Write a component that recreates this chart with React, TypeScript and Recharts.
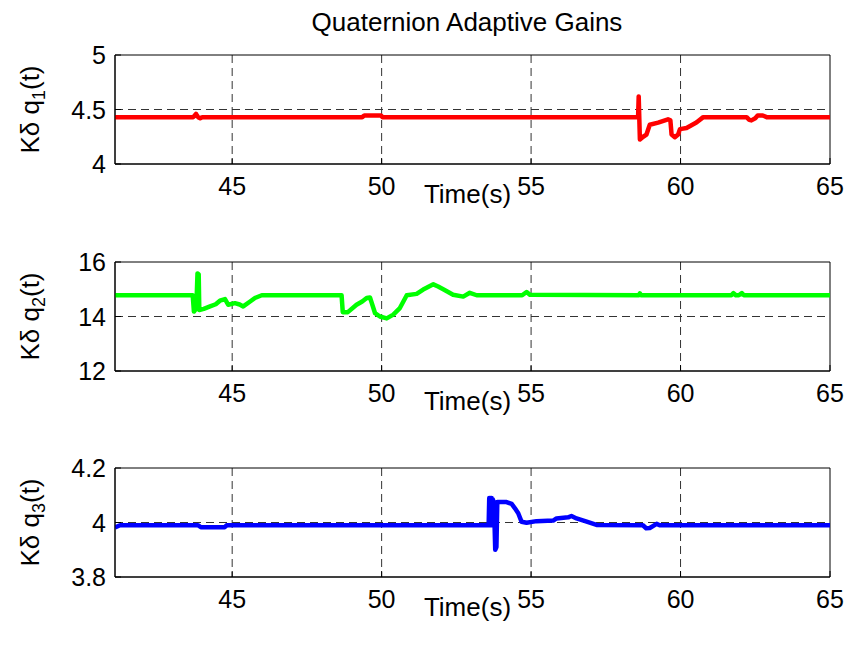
import React from 'react';
import { LineChart, Line, XAxis, YAxis, CartesianGrid, ReferenceArea } from 'recharts';

const FONT = '"Liberation Sans", Arial, Helvetica, sans-serif';

const tStart = 41.08;
const tEnd = 65;
const timeTicks = [45, 50, 55, 60, 65];
const timeGrid = [45, 50, 55, 60];

// Kδ q1 gain
const q1Time = [41.08, 43.70, 43.79, 43.86, 43.93, 44.0, 49.35, 49.42, 49.98, 50.03, 58.58, 58.60, 58.64, 58.75, 58.86, 58.97, 59.25, 59.58, 59.66, 59.70, 59.81, 59.92, 59.98, 60.2, 60.53, 60.76, 62.21, 62.30, 62.37, 62.50, 62.58, 62.75, 62.88, 65];
const q1Gain = [4.43, 4.43, 4.46, 4.43, 4.42, 4.43, 4.43, 4.445, 4.445, 4.43, 4.43, 4.62, 4.225, 4.25, 4.27, 4.36, 4.38, 4.41, 4.40, 4.27, 4.245, 4.27, 4.32, 4.33, 4.38, 4.43, 4.43, 4.405, 4.40, 4.42, 4.445, 4.445, 4.43, 4.43];

// Kδ q2 gain
const q2Time = [41.08, 43.68, 43.72, 43.80, 43.84, 43.88, 43.90, 44.05, 44.26, 44.45, 44.59, 44.76, 44.87, 45.09, 45.25, 45.37, 45.60, 45.76, 45.99, 48.66, 48.70, 48.87, 49.16, 49.35, 49.50, 49.61, 49.78, 49.94, 50.17, 50.39, 50.61, 50.84, 51.17, 51.39, 51.73, 51.89, 52.06, 52.39, 52.73, 52.95, 53.18, 54.70, 54.85, 54.96, 58.60, 58.64, 58.68, 61.70, 61.77, 61.85, 61.95, 62.05, 62.12, 65];
const q2Gain = [14.78, 14.78, 14.18, 14.30, 15.58, 15.55, 14.24, 14.28, 14.37, 14.45, 14.58, 14.64, 14.43, 14.49, 14.44, 14.37, 14.55, 14.68, 14.78, 14.78, 14.16, 14.16, 14.43, 14.55, 14.68, 14.70, 14.12, 14.00, 13.93, 14.07, 14.31, 14.78, 14.83, 14.99, 15.18, 15.10, 15.00, 14.80, 14.73, 14.87, 14.78, 14.78, 14.90, 14.80, 14.78, 14.85, 14.78, 14.78, 14.86, 14.78, 14.78, 14.86, 14.78, 14.78];

// Kδ q3 gain
const q3Time = [41.08, 41.25, 43.85, 43.95, 44.75, 44.82, 53.58, 53.60, 53.62, 53.64, 53.66, 53.68, 53.70, 53.72, 53.76, 53.80, 53.84, 53.87, 54.18, 54.35, 54.46, 54.57, 54.68, 54.85, 55.18, 55.74, 55.85, 56.24, 56.35, 56.52, 56.86, 57.19, 58.74, 58.85, 58.97, 59.20, 59.30, 65];
const q3Gain = [3.982, 3.99, 3.99, 3.983, 3.983, 3.99, 3.99, 4.09, 4.0, 4.09, 3.99, 4.09, 4.0, 4.085, 4.07, 3.90, 3.91, 4.075, 4.075, 4.068, 4.052, 4.034, 4.003, 3.999, 4.005, 4.007, 4.015, 4.019, 4.024, 4.015, 4.003, 3.991, 3.99, 3.979, 3.98, 3.995, 3.99, 3.99];

const panels = [
  { time: q1Time, gain: q1Gain, color: '#ff0000', sub: '1', domain: [4, 5], ticks: [4, 4.5, 5], top: 0 },
  { time: q2Time, gain: q2Gain, color: '#00ff00', sub: '2', domain: [12, 16], ticks: [12, 14, 16], top: 207 },
  { time: q3Time, gain: q3Gain, color: '#0000ff', sub: '3', domain: [3.8, 4.2], ticks: [3.8, 4, 4.2], top: 413 },
];

const BottomTick = (props: any) => {
  const { x, y, payload } = props;
  return (
    <g>
      <line x1={x} y1={y} x2={x} y2={y - 6} stroke="#000" />
      <text x={x} y={y + 31} textAnchor="middle" fontSize={25} fontFamily={FONT} fill="#000">
        {payload.value}
      </text>
    </g>
  );
};

const LeftTick = (props: any) => {
  const { x, y, payload } = props;
  return (
    <g>
      <line x1={x} y1={y} x2={x + 6} y2={y} stroke="#000" />
      <text x={x - 9} y={y} dy="0.36em" textAnchor="end" fontSize={25} fontFamily={FONT} fill="#000">
        {payload.value}
      </text>
    </g>
  );
};

const TimeLabel = (props: any) => {
  const vb = props.viewBox || { x: 115, y: 164, width: 715, height: 43 };
  return (
    <text x={vb.x + vb.width / 2 - 5} y={vb.y + 39} textAnchor="middle" fontSize={26} fontFamily={FONT} fill="#000">
      Time(s)
    </text>
  );
};

const gainLabel = (sub: string) => (props: any) => {
  const vb = props.viewBox || { x: 0, y: 55, width: 115, height: 109 };
  const cx = vb.x + 39;
  const cy = vb.y + vb.height / 2;
  return (
    <text x={cx} y={cy} transform={`rotate(-90, ${cx}, ${cy})`} textAnchor="middle" fontSize={26} fontFamily={FONT} fill="#000">
      Kδ q<tspan dy={6} fontSize={18}>{sub}</tspan>
      <tspan dy={-6}>(t)</tspan>
    </text>
  );
};

function GainPanel({ p }: { p: any }) {
  const data = p.time.map((t: number, i: number) => ({ t, v: p.gain[i] }));
  const mid = p.ticks[1];
  return (
    <div style={{ position: 'absolute', left: 0, top: p.top }}>
      <LineChart width={849} height={230} data={data} margin={{ top: 55, right: 19, bottom: 23, left: 0 }}>
        <CartesianGrid stroke="#333" strokeDasharray="8 5" verticalValues={timeGrid} horizontalValues={[mid]} />
        <XAxis
          dataKey="t" type="number" domain={[tStart, tEnd]} ticks={timeTicks} allowDataOverflow interval={0}
          height={43} tickSize={0} tickMargin={0} tickLine={false} axisLine={{ stroke: '#000' }}
          tick={BottomTick} label={TimeLabel}
        />
        <YAxis
          type="number" domain={p.domain} ticks={p.ticks} allowDataOverflow interval={0}
          width={115} tickSize={0} tickMargin={0} tickLine={false} axisLine={{ stroke: '#000' }}
          tick={LeftTick} label={gainLabel(p.sub)}
        />
        <Line
          type="linear" dataKey="v" stroke={p.color} strokeWidth={4.5} strokeLinejoin="round"
          dot={false} isAnimationActive={false}
        />
        <ReferenceArea x1={tStart} x2={tEnd} y1={p.domain[0]} y2={p.domain[1]} fill="none" stroke="#000" strokeWidth={1} />
      </LineChart>
    </div>
  );
}

export default function App() {
  return (
    <div style={{ position: 'absolute', left: 0, top: 0, width: 849, height: 649, background: '#fff' }}>
      <div
        style={{
          position: 'absolute', left: 0, top: 10, width: 934, textAlign: 'center',
          fontFamily: FONT, fontSize: 26, lineHeight: '25px', color: '#000',
        }}
      >
        Quaternion Adaptive Gains
      </div>
      {panels.map((p) => (
        <GainPanel key={p.sub} p={p} />
      ))}
    </div>
  );
}
